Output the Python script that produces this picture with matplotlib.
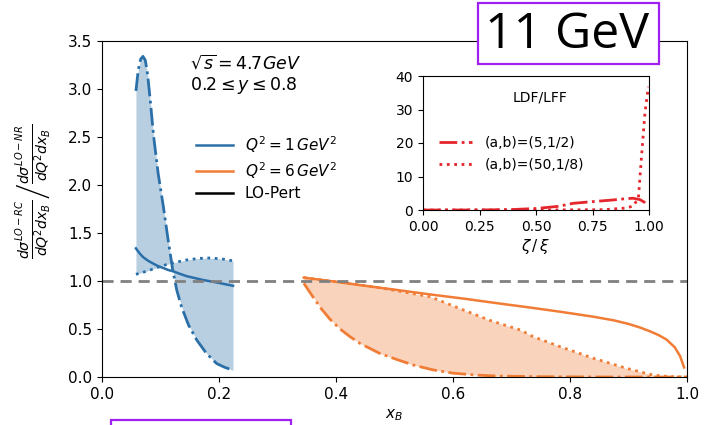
import matplotlib
matplotlib.use("Agg")
import matplotlib.pyplot as plt
from matplotlib.patches import Rectangle
import numpy as np

# ---------------- data ----------------
# Q^2 = 1 GeV^2 (blue)
b_sol_x = [0.058, 0.064, 0.070, 0.079, 0.088, 0.096, 0.105, 0.113, 0.122, 0.133, 0.145, 0.159, 0.173, 0.187, 0.200, 0.212, 0.224]
b_sol_y = [1.34, 1.29, 1.25, 1.21, 1.18, 1.155, 1.135, 1.115, 1.10, 1.075, 1.05, 1.03, 1.01, 0.995, 0.98, 0.965, 0.95]
b_dd_x = [0.058, 0.062, 0.066, 0.070, 0.074, 0.078, 0.083, 0.088, 0.096, 0.105, 0.113,
          0.121, 0.128, 0.136, 0.148, 0.162, 0.178, 0.196, 0.210, 0.224]
b_dd_y = [2.98, 3.20, 3.31, 3.34, 3.30, 3.15, 2.85, 2.52, 2.12, 1.77, 1.43,
          1.11, 0.90, 0.73, 0.54, 0.385, 0.25, 0.14, 0.10, 0.07]
b_dot_x = [0.058, 0.070, 0.085, 0.099, 0.115, 0.130, 0.145, 0.165, 0.185, 0.205, 0.224]
b_dot_y = [1.07, 1.09, 1.12, 1.15, 1.18, 1.20, 1.22, 1.235, 1.24, 1.23, 1.21]

# Q^2 = 6 GeV^2 (orange)
o_sol_x = [0.345, 0.390, 0.450, 0.500, 0.561, 0.620, 0.680, 0.730, 0.783, 0.840, 0.875, 0.900,
           0.920, 0.937, 0.952, 0.965, 0.979, 0.988, 0.995]
o_sol_y = [1.035, 1.00, 0.95, 0.91, 0.86, 0.815, 0.765, 0.725, 0.68, 0.628, 0.59, 0.553,
           0.515, 0.475, 0.435, 0.39, 0.31, 0.22, 0.10]
o_dd_x = [0.345, 0.360, 0.375, 0.390, 0.407, 0.424, 0.441, 0.475, 0.505, 0.532, 0.565, 0.600,
          0.640, 0.675, 0.750, 0.850, 1.000]
o_dd_y = [0.976, 0.84, 0.71, 0.60, 0.50, 0.42, 0.35, 0.245, 0.18, 0.125, 0.075, 0.04,
          0.02, 0.01, 0.003, 0.0, 0.0]
o_dot_x = [0.345, 0.390, 0.475, 0.561, 0.617, 0.663, 0.715, 0.737, 0.783, 0.840, 0.897, 0.942, 0.970, 1.000]
o_dot_y = [1.035, 1.00, 0.93, 0.836, 0.70, 0.59, 0.49, 0.42, 0.316, 0.195, 0.09, 0.02, 0.005, 0.0]

# inset LDF/LFF
i1_x = [0.0, 0.1, 0.2, 0.3, 0.4, 0.5, 0.6, 0.665, 0.75, 0.842, 0.9, 0.93, 0.96, 0.98, 0.997]
i1_y = [0.0, 0.0, 0.01, 0.05, 0.15, 0.45, 1.1, 2.0, 2.5, 3.0, 3.4, 3.5, 3.1, 2.3, 1.2]
i2_x = [0.0, 0.5, 0.8, 0.9, 0.93, 0.953, 0.968, 0.982, 0.997]
i2_y = [0.0, 0.0, 0.1, 0.6, 1.2, 3.5, 16.9, 28.9, 36.8]

main_xticks = [0.0, 0.2, 0.4, 0.6, 0.8, 1.0]
main_yticks = [0.0, 0.5, 1.0, 1.5, 2.0, 2.5, 3.0, 3.5]
inset_xticks = [0.0, 0.25, 0.5, 0.75, 1.0]
inset_yticks = [0, 10, 20, 30, 40]

BLUE = '#2a6fa8'
ORANGE = '#f07c35'
RED = '#e5262c'
PURPLE = '#a020f0'

W, H = 704, 425
fig = plt.figure(figsize=(W / 100, H / 100), dpi=100)

def fx(px):
    return px / W

def fy(py):
    return 1 - py / H

ax = fig.add_axes([fx(102), fy(377), (687 - 102) / W, (377 - 41) / H])

ax.fill_between(b_dd_x, b_dd_y, np.interp(b_dd_x, b_dot_x, b_dot_y), color=BLUE, alpha=0.33, lw=0)
ax.plot(b_sol_x, b_sol_y, color=BLUE, lw=1.8, label=r'$Q^2=1\,GeV^2$')
ax.plot(b_dd_x, b_dd_y, color=BLUE, lw=2, ls='-.')
ax.plot(b_dot_x, b_dot_y, color=BLUE, lw=2, ls=':')

ox = sorted(set(o_dd_x) | set(o_dot_x))
ax.fill_between(ox, np.interp(ox, o_dd_x, o_dd_y), np.interp(ox, o_dot_x, o_dot_y),
                color=ORANGE, alpha=0.33, lw=0)
ax.plot(o_sol_x, o_sol_y, color=ORANGE, lw=1.8, label=r'$Q^2=6\,GeV^2$')
ax.plot(o_dd_x, o_dd_y, color=ORANGE, lw=2, ls='-.')
ax.plot(o_dot_x, o_dot_y, color=ORANGE, lw=2, ls=':')

ax.plot([], [], color='black', lw=1.8, label='LO-Pert')
ax.axhline(1.0, color='gray', ls='--', lw=2, dashes=(4, 2.5))

ax.set_xlim(0, 1)
ax.set_ylim(0, 3.5)
ax.set_xticks(main_xticks)
ax.set_yticks(main_yticks)
ax.tick_params(labelsize=11)
ax.set_xlabel(r'$x_B$', fontsize=11)
ax.xaxis.set_label_coords(0.5, -0.09)
ax.set_ylabel(r'$\left.\frac{d\sigma^{LO-RC}}{dQ^2dx_B}\right/\frac{d\sigma^{LO-NR}}{dQ^2dx_B}$', fontsize=14.5)
ax.yaxis.set_label_coords(-0.082, 0.554)

ax.text((190 - 102) / 585, (377 - 75) / 336, r'$\sqrt{s}=4.7GeV$' + '\n' + r'$0.2\leq y\leq 0.8$',
        transform=ax.transAxes, fontsize=12.5, va='center', ha='left', linespacing=1.1)

ax.legend(loc='upper left', bbox_to_anchor=((196 - 102) / 585, (377 - 134) / 336),
          frameon=False, fontsize=11, borderpad=0, borderaxespad=0,
          handlelength=2.4, handletextpad=0.8, labelspacing=0.35)

# inset
axi = fig.add_axes([fx(423), fy(210), (649 - 423) / W, (210 - 76) / H])
axi.plot(i1_x, i1_y, color=RED, lw=2, ls='-.', label='(a,b)=(5,1/2)')
axi.plot(i2_x, i2_y, color=RED, lw=2, ls=':', label='(a,b)=(50,1/8)')
axi.set_xlim(0, 1)
axi.set_ylim(0, 40)
axi.set_xticks(inset_xticks)
axi.set_yticks(inset_yticks)
axi.set_xticklabels(['0.00', '0.25', '0.50', '0.75', '1.00'])
axi.tick_params(labelsize=10)
axi.set_xlabel(r'$\zeta\,/\,\xi$', fontsize=11, labelpad=2)
leg = axi.legend(loc='upper left', bbox_to_anchor=(0.07, 0.555), frameon=False, fontsize=10,
                 handlelength=2.4, handletextpad=0.9, labelspacing=0.6, borderpad=0, borderaxespad=0)
axi.text(0.52, 0.84, 'LDF/LFF', transform=axi.transAxes, ha='center', va='center', fontsize=10)

# annotation boxes
fig.add_artist(Rectangle((fx(478), fy(64)), (659 - 478) / W, (64 - 3) / H, transform=fig.transFigure,
                         facecolor='white', edgecolor=PURPLE, lw=1.6, zorder=10))
fig.text(fx(567), fy(35), '11 GeV', family='Open Sans', fontsize=36, ha='center', va='center', zorder=11)
fig.add_artist(Rectangle((fx(111), fy(440)), (291 - 111) / W, (440 - 420) / H, transform=fig.transFigure,
                         facecolor='none', edgecolor=PURPLE, lw=1.6, zorder=10))

fig.savefig('out.png', dpi=100)
